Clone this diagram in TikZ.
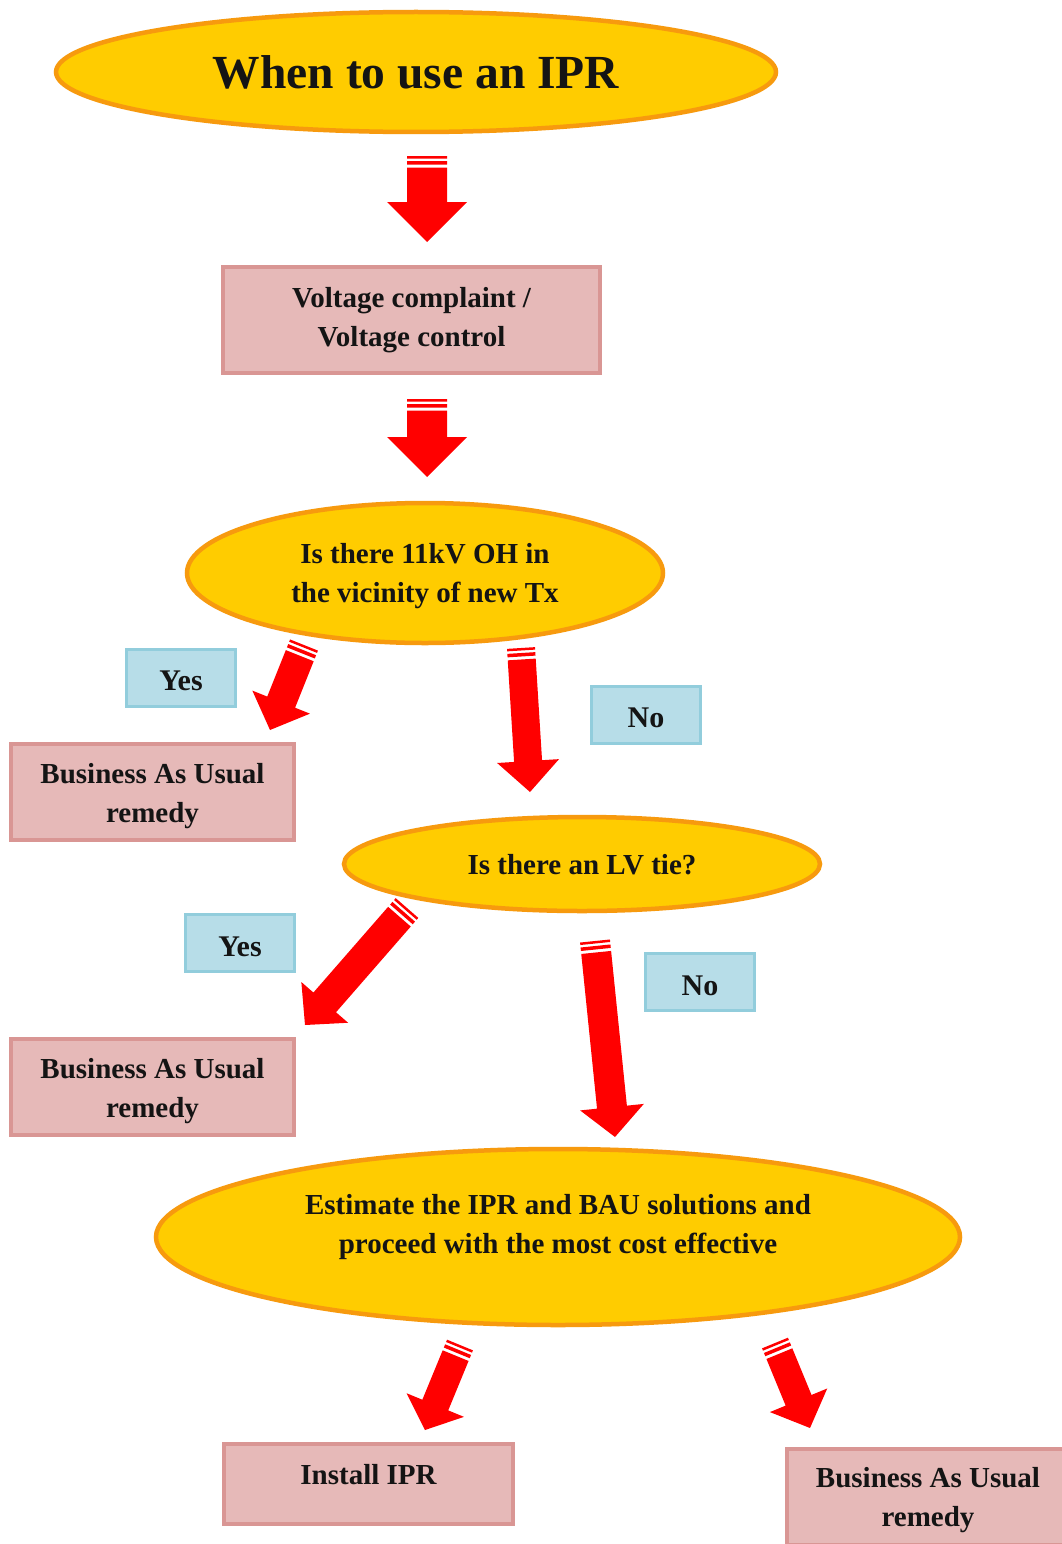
\documentclass[tikz,border=0pt]{standalone}
\usepackage{fontspec}
\setmainfont{Liberation Serif}
\usetikzlibrary{shapes.geometric,calc}
\definecolor{elfill}{HTML}{FFCC00}
\definecolor{eldraw}{HTML}{F79A0E}
\definecolor{boxfill}{HTML}{E6B9B8}
\definecolor{boxdraw}{HTML}{D99694}
\definecolor{bluefill}{HTML}{B7DDE8}
\definecolor{bluedraw}{HTML}{92CDDC}
\definecolor{txt}{HTML}{141414}
\definecolor{arrowred}{HTML}{FF0000}
\newcommand\bodyfont{\fontsize{29}{39}\selectfont\bfseries}
\newcommand\ynfont{\fontsize{30}{36}\selectfont\bfseries}
\newcommand\titlefont{\fontsize{47.5}{56}\selectfont\bfseries}
% tail, tip, half shaft width, half head width, head length
\newcommand\blockarrow[5]{%
  \fill[arrowred]
    ($(#1)!#3!90:(#2)$) -- ($(#1)!#3!-90:(#2)$) -- ($(#1)!2.5pt!(#2)!#3!-90:(#2)$) -- ($(#1)!2.5pt!(#2)!#3!90:(#2)$) -- cycle
    ($(#1)!5pt!(#2)!#3!90:(#2)$) -- ($(#1)!5pt!(#2)!#3!-90:(#2)$) -- ($(#1)!8.5pt!(#2)!#3!-90:(#2)$) -- ($(#1)!8.5pt!(#2)!#3!90:(#2)$) -- cycle
    ($(#1)!11.5pt!(#2)!#3!90:(#2)$) -- ($(#1)!11.5pt!(#2)!#3!-90:(#2)$) -- ($(#2)!#5!(#1)!#3!90:(#1)$) -- ($(#2)!#5!(#1)!#4!90:(#1)$) -- (#2) -- ($(#2)!#5!(#1)!#4!-90:(#1)$) -- ($(#2)!#5!(#1)!#3!-90:(#1)$) -- cycle;%
}
\begin{document}
\begin{tikzpicture}[x=1pt,y=-1pt,
  ell/.style={ellipse, fill=elfill, draw=eldraw, line width=4.5pt, inner sep=0pt, align=center, text=txt},
  pbox/.style={rectangle, fill=boxfill, draw=boxdraw, line width=4pt, inner sep=0pt},
  bbox/.style={rectangle, fill=bluefill, draw=bluedraw, line width=3pt, inner sep=0pt, minimum width=109pt, minimum height=57pt},
  lbl/.style={align=center, font=\bodyfont, text=txt, inner sep=0pt},
  yn/.style={font=\ynfont, text=txt, inner sep=0pt}]
\useasboundingbox (0,0) rectangle (1062,1544);
\clip (0,0) rectangle (1062,1544);
\fill[white] (0,0) rectangle (1062,1544);

% ellipses
\node[ell, minimum width=720pt, minimum height=120pt, font=\titlefont] (title) at (416,72) {When to use an IPR};
\node[ell, minimum width=476pt, minimum height=140pt] (q1) at (425,573) {};
\node[lbl] (q1text) at (425,576) {Is there 11kV OH in\\the vicinity of new Tx};
\node[ell, minimum width=476pt, minimum height=94pt] (q2) at (582,864) {};
\node[lbl] (q2text) at (582,865) {Is there an LV tie?};
\node[ell, minimum width=804pt, minimum height=176pt] (q3) at (558,1237) {};
\node[lbl] (q3text) at (558,1227) {Estimate the IPR and BAU solutions and\\proceed with the most cost effective};

% boxes
\node[pbox, minimum width=377pt, minimum height=106pt] (vc) at (411.5,320) {};
\node[lbl] (vctext) at (411.5,320) {Voltage complaint /\\Voltage control};
\node[pbox, minimum width=283pt, minimum height=96pt] (bau1) at (152.5,792) {};
\node[lbl] (bau1text) at (152.5,796) {Business As Usual\\remedy};
\node[pbox, minimum width=283pt, minimum height=96pt] (bau2) at (152.5,1087) {};
\node[lbl] (bau2text) at (152.5,1091) {Business As Usual\\remedy};
\node[pbox, minimum width=289pt, minimum height=80pt] (inst) at (368.5,1484) {};
\node[lbl] (insttext) at (368.5,1475) {Install IPR};
\node[pbox, minimum width=283pt, minimum height=96pt] (bau3) at (928,1497) {};
\node[lbl] (bau3text) at (928,1500) {Business As Usual\\remedy};

% yes / no labels
\node[bbox] (yes1) at (181,678) {};
\node[yn] (yes1text) at (181,681) {Yes};
\node[bbox] (no1) at (646,715) {};
\node[yn] (no1text) at (646,718) {No};
\node[bbox] (yes2) at (240,943) {};
\node[yn] (yes2text) at (240,947) {Yes};
\node[bbox] (no2) at (700,982) {};
\node[yn] (no2text) at (700,986) {No};

% arrow endpoints
\coordinate (a1t) at (427,156); \coordinate (a1p) at (427,242);
\coordinate (a2t) at (427,399); \coordinate (a2p) at (427,477);
\coordinate (a3t) at (304,645); \coordinate (a3p) at (270,730);
\coordinate (a4t) at (521,648); \coordinate (a4p) at (530,792);
\coordinate (a5t) at (407,908); \coordinate (a5p) at (305,1025);
\coordinate (a6t) at (595,941); \coordinate (a6p) at (615,1137);
\coordinate (a7t) at (460,1345); \coordinate (a7p) at (425,1430);
\coordinate (a8t) at (775,1343); \coordinate (a8p) at (810,1428);

\blockarrow{a1t}{a1p}{20pt}{40pt}{40pt}
\blockarrow{a2t}{a2p}{20pt}{40pt}{40pt}
\blockarrow{a3t}{a3p}{15pt}{31pt}{30pt}
\blockarrow{a4t}{a4p}{14pt}{31pt}{31pt}
\blockarrow{a5t}{a5p}{15pt}{31pt}{30pt}
\blockarrow{a6t}{a6p}{15pt}{32pt}{30pt}
\blockarrow{a7t}{a7p}{14pt}{31pt}{27pt}
\blockarrow{a8t}{a8p}{14pt}{31pt}{30pt}
\end{tikzpicture}
\end{document}
